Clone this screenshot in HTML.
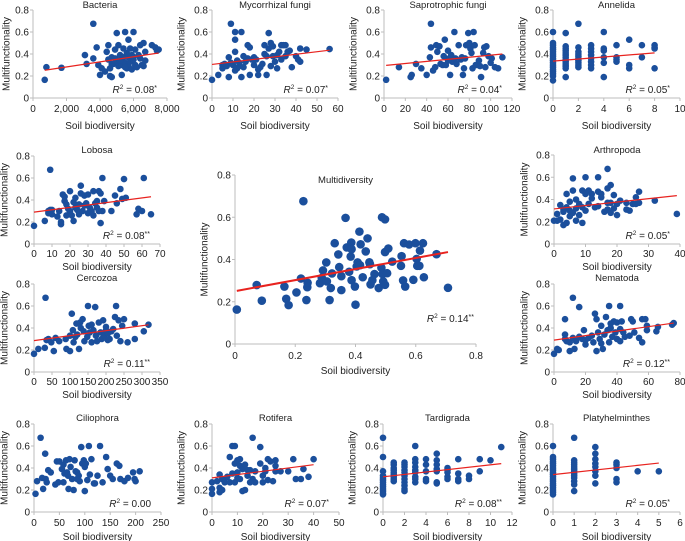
<!DOCTYPE html>
<html><head><meta charset="utf-8">
<style>
html,body{margin:0;padding:0;background:#fff;}
svg{display:block;font-family:"Liberation Sans",Arial,sans-serif;}
</style></head>
<body>
<svg id="fig" width="685" height="541" viewBox="0 0 685 541"></svg>
<script>
// ---- data ----
const bacteriaPts=[[700,0.165],[800,0.28],[1700,0.275],[3100,0.39],[3200,0.31],[3600,0.675],[3600,0.36],[3800,0.46],[3900,0.3],[4000,0.21],[4100,0.27],[4300,0.24],[4400,0.42],[4500,0.48],[4500,0.35],[4600,0.2],[4600,0.27],[4700,0.37],[4700,0.19],[4800,0.31],[4900,0.44],[4900,0.36],[5000,0.59],[5000,0.34],[5100,0.48],[5100,0.29],[5200,0.39],[5300,0.21],[5300,0.3],[5400,0.37],[5400,0.45],[5500,0.6],[5500,0.32],[5600,0.27],[5600,0.41],[5700,0.53],[5700,0.37],[5700,0.29],[5800,0.45],[5800,0.33],[5900,0.26],[5900,0.39],[6000,0.35],[6000,0.6],[6100,0.3],[6100,0.44],[6200,0.28],[6300,0.39],[6400,0.48],[6400,0.36],[6500,0.3],[6600,0.5],[6600,0.29],[6700,0.42],[6700,0.34],[7100,0.48],[7300,0.46],[7400,0.43],[7500,0.44],[5200,0.34],[5500,0.28],[6000,0.37],[4700,0.31]];
const mycorrhizalPts=[[0,0.165],[3,0.21],[5,0.27],[5,0.3],[6,0.31],[7,0.29],[8,0.37],[8,0.19],[9,0.675],[9,0.32],[10,0.3],[11,0.6],[11,0.53],[11,0.42],[11,0.25],[12,0.27],[12,0.34],[13,0.29],[13,0.32],[14,0.6],[14,0.19],[15,0.28],[15,0.38],[16,0.33],[17,0.48],[17,0.36],[18,0.46],[18,0.21],[19,0.35],[20,0.3],[20,0.37],[21,0.35],[22,0.26],[22,0.21],[23,0.28],[24,0.31],[25,0.4],[25,0.48],[26,0.38],[26,0.21],[27,0.59],[27,0.45],[28,0.5],[28,0.29],[29,0.47],[29,0.38],[30,0.33],[31,0.39],[31,0.27],[32,0.42],[33,0.35],[33,0.48],[34,0.48],[35,0.48],[35,0.38],[36,0.42],[37,0.43],[38,0.28],[40,0.38],[41,0.35],[42,0.45],[42,0.33],[45,0.44],[56,0.445]];
const saprotrophicPts=[[2,0.165],[14,0.28],[25,0.19],[26,0.21],[30,0.31],[35,0.27],[40,0.21],[43,0.37],[44,0.675],[44,0.46],[46,0.25],[48,0.28],[49,0.48],[50,0.42],[52,0.47],[53,0.31],[55,0.3],[56,0.38],[57,0.53],[58,0.3],[60,0.43],[61,0.36],[62,0.21],[63,0.39],[64,0.33],[66,0.6],[67,0.36],[68,0.31],[70,0.48],[72,0.35],[73,0.37],[74,0.21],[75,0.27],[77,0.48],[79,0.59],[80,0.5],[81,0.45],[82,0.41],[83,0.27],[84,0.6],[85,0.48],[86,0.3],[88,0.3],[89,0.34],[90,0.29],[91,0.19],[93,0.41],[94,0.46],[95,0.28],[96,0.47],[98,0.38],[100,0.32],[101,0.36],[104,0.28],[107,0.27],[111,0.37],[76,0.36],[60,0.34]];
const annelidaCols=[[0,[0.6,0.5,0.48,0.46,0.44,0.42,0.4,0.38,0.36,0.34,0.32,0.3,0.28,0.26,0.24,0.22,0.2,0.16]],[1,[0.59,0.47,0.45,0.43,0.41,0.39,0.37,0.35,0.33,0.31,0.29,0.27,0.19]],[2,[0.675,0.46,0.42,0.4,0.38,0.36,0.34,0.32,0.3,0.28]],[3,[0.48,0.45,0.42,0.39,0.36,0.33,0.3,0.27]],[4,[0.6,0.45,0.43,0.37,0.32,0.19]],[5,[0.48,0.37,0.35,0.33]],[6,[0.53,0.3,0.27]],[7,[0.48,0.37]],[8,[0.48,0.46,0.45,0.27]]];
const lobosaPts=[[0,0.165],[6,0.21],[8,0.3],[8,0.28],[9,0.675],[9,0.31],[10,0.27],[10,0.31],[13,0.25],[14,0.3],[15,0.18],[15,0.2],[16,0.45],[17,0.43],[17,0.39],[18,0.36],[18,0.26],[19,0.32],[20,0.48],[20,0.3],[21,0.26],[22,0.21],[22,0.38],[23,0.42],[23,0.33],[24,0.31],[25,0.36],[25,0.27],[26,0.53],[26,0.46],[27,0.3],[28,0.44],[28,0.35],[29,0.37],[30,0.28],[30,0.45],[31,0.33],[32,0.3],[33,0.48],[33,0.26],[34,0.37],[35,0.39],[35,0.33],[36,0.48],[36,0.3],[37,0.19],[37,0.46],[38,0.6],[38,0.3],[39,0.39],[43,0.3],[45,0.44],[46,0.37],[48,0.5],[49,0.41],[50,0.59],[51,0.42],[57,0.27],[58,0.32],[60,0.3],[61,0.6],[65,0.27]];
const cercozoaPts=[[0,0.165],[12,0.21],[30,0.22],[32,0.675],[35,0.29],[40,0.3],[48,0.27],[55,0.19],[60,0.31],[70,0.28],[88,0.3],[90,0.21],[100,0.19],[100,0.33],[105,0.53],[108,0.38],[110,0.27],[115,0.32],[120,0.34],[125,0.21],[128,0.45],[130,0.4],[135,0.48],[138,0.37],[140,0.28],[148,0.32],[150,0.6],[152,0.42],[155,0.36],[160,0.27],[165,0.38],[170,0.59],[172,0.33],[175,0.28],[180,0.45],[185,0.36],[188,0.3],[192,0.47],[195,0.33],[200,0.41],[200,0.38],[205,0.35],[210,0.3],[215,0.37],[220,0.39],[225,0.5],[228,0.6],[230,0.33],[235,0.47],[240,0.28],[245,0.42],[250,0.48],[260,0.27],[280,0.44],[280,0.3],[305,0.37],[318,0.43],[160,0.43],[118,0.44],[205,0.29]];
const arthropodaPts=[[0,0.21],[1,0.27],[1,0.21],[2,0.35],[2,0.22],[3,0.31],[3,0.17],[3,0.29],[4,0.45],[4,0.33],[4,0.19],[5,0.38],[5,0.3],[5,0.25],[6,0.59],[6,0.48],[6,0.28],[7,0.4],[7,0.21],[7,0.32],[8,0.36],[8,0.26],[9,0.48],[9,0.19],[9,0.33],[10,0.6],[10,0.45],[10,0.3],[11,0.48],[11,0.36],[12,0.45],[12,0.41],[13,0.33],[14,0.6],[14,0.47],[14,0.34],[15,0.45],[15,0.42],[16,0.29],[17,0.675],[17,0.5],[17,0.37],[17,0.31],[18,0.53],[18,0.37],[18,0.28],[19,0.44],[19,0.32],[20,0.26],[20,0.36],[21,0.39],[23,0.37],[23,0.31],[24,0.3],[25,0.36],[26,0.42],[26,0.36],[27,0.47],[27,0.37],[32,0.39],[39,0.27]];
const nematodaPts=[[0,0.165],[2,0.21],[3,0.2],[7,0.48],[7,0.34],[7,0.3],[8,0.28],[10,0.19],[10,0.27],[12,0.675],[12,0.31],[13,0.21],[14,0.28],[16,0.59],[16,0.32],[18,0.3],[19,0.38],[20,0.25],[20,0.29],[22,0.31],[24,0.33],[25,0.27],[26,0.53],[27,0.48],[27,0.19],[28,0.36],[29,0.3],[30,0.42],[30,0.26],[31,0.21],[32,0.34],[33,0.5],[34,0.38],[35,0.6],[35,0.27],[36,0.4],[37,0.32],[38,0.46],[39,0.36],[40,0.45],[40,0.3],[42,0.6],[42,0.39],[43,0.46],[44,0.36],[45,0.32],[48,0.33],[49,0.48],[50,0.46],[51,0.36],[54,0.31],[56,0.27],[56,0.48],[58,0.48],[59,0.42],[59,0.38],[65,0.37],[66,0.41],[75,0.43],[76,0.445],[36,0.44],[42,0.28]];
const multidiversityPts=[[0.006,0.163],[0.072,0.279],[0.089,0.205],[0.164,0.272],[0.17,0.214],[0.178,0.184],[0.204,0.244],[0.219,0.31],[0.227,0.676],[0.237,0.208],[0.24,0.269],[0.241,0.29],[0.282,0.288],[0.288,0.313],[0.292,0.348],[0.303,0.386],[0.305,0.296],[0.314,0.208],[0.318,0.265],[0.322,0.334],[0.331,0.477],[0.343,0.424],[0.346,0.364],[0.353,0.321],[0.353,0.255],[0.367,0.597],[0.371,0.457],[0.379,0.342],[0.384,0.414],[0.386,0.48],[0.387,0.449],[0.387,0.302],[0.398,0.272],[0.4,0.186],[0.404,0.367],[0.407,0.386],[0.413,0.532],[0.415,0.373],[0.417,0.472],[0.424,0.316],[0.434,0.438],[0.44,0.5],[0.446,0.387],[0.448,0.378],[0.45,0.282],[0.456,0.302],[0.463,0.331],[0.477,0.265],[0.486,0.361],[0.488,0.6],[0.49,0.331],[0.492,0.296],[0.498,0.59],[0.498,0.435],[0.498,0.28],[0.505,0.335],[0.509,0.452],[0.522,0.39],[0.551,0.37],[0.553,0.416],[0.558,0.301],[0.561,0.477],[0.565,0.272],[0.578,0.471],[0.592,0.304],[0.599,0.477],[0.603,0.403],[0.605,0.37],[0.612,0.37],[0.614,0.442],[0.624,0.477],[0.627,0.316],[0.669,0.425],[0.707,0.266]];
const ciliophoraPts=[[3,0.165],[6,0.28],[13,0.675],[16,0.31],[18,0.21],[22,0.53],[23,0.3],[25,0.27],[28,0.38],[33,0.36],[42,0.25],[45,0.46],[48,0.27],[50,0.46],[55,0.39],[58,0.43],[58,0.27],[63,0.47],[65,0.36],[67,0.33],[68,0.21],[70,0.48],[72,0.41],[75,0.3],[78,0.2],[80,0.47],[82,0.37],[85,0.36],[88,0.33],[90,0.28],[93,0.59],[95,0.44],[98,0.47],[100,0.19],[100,0.41],[102,0.44],[105,0.29],[108,0.6],[110,0.34],[113,0.48],[118,0.26],[125,0.33],[130,0.6],[135,0.27],[142,0.5],[145,0.39],[150,0.33],[155,0.3],[163,0.44],[168,0.42],[170,0.3],[178,0.28],[185,0.31],[195,0.36],[198,0.3],[200,0.28],[208,0.37],[85,0.3],[120,0.26],[60,0.35]];
const rotiferaPts=[[0,0.165],[0,0.21],[0,0.27],[2,0.28],[3,0.34],[3,0.22],[3,0.18],[4,0.3],[4,0.2],[5,0.27],[6,0.32],[7,0.5],[7,0.27],[8,0.6],[8,0.35],[9,0.6],[9,0.44],[9,0.27],[10,0.47],[10,0.36],[10,0.31],[11,0.48],[11,0.42],[11,0.3],[12,0.39],[12,0.19],[13,0.43],[13,0.2],[14,0.38],[14,0.33],[15,0.38],[16,0.675],[16,0.3],[17,0.37],[17,0.27],[19,0.59],[19,0.44],[20,0.33],[20,0.27],[21,0.4],[22,0.48],[22,0.29],[23,0.46],[24,0.28],[25,0.47],[25,0.37],[25,0.42],[27,0.37],[30,0.37],[32,0.48],[33,0.3],[35,0.3],[36,0.39],[38,0.32],[40,0.48],[21,0.37],[15,0.27]];
const tardigradaCols=[[0,[0.675,0.5,0.37,0.33,0.31,0.29,0.27,0.25,0.23,0.21,0.19,0.17,0.16]],[1,[0.45,0.43,0.4,0.38,0.36,0.34,0.32,0.3,0.28]],[2,[0.45,0.43,0.41,0.38,0.36,0.33,0.3,0.27,0.24,0.21,0.19]],[3,[0.6,0.48,0.45,0.41,0.38,0.36,0.32,0.3,0.27]],[4,[0.48,0.43,0.37,0.3,0.28]],[5,[0.53,0.47,0.43,0.39,0.37,0.27,0.26]],[6,[0.4,0.38,0.36,0.32,0.3]],[7,[0.48,0.35,0.3,0.28]],[8,[0.33,0.3]],[9,[0.48,0.37]],[10,[0.47]],[11,[0.59]]];
const platyCols=[[0,[0.6,0.5,0.48,0.46,0.44,0.42,0.4,0.38,0.36,0.34,0.32,0.3,0.28,0.26,0.24,0.22,0.2,0.18,0.16]],[1,[0.675,0.47,0.45,0.43,0.41,0.39,0.37,0.35,0.33,0.31,0.28,0.25,0.19]],[2,[0.59,0.53,0.48,0.44,0.41,0.37,0.33,0.26]],[3,[0.45,0.43,0.4,0.3,0.27]],[4,[0.37]],[5,[0.37]]];
// regression fits [intercept, slope]
const fitBacteria=[0.236,0.0000231];
const fitMycorrhizal=[0.305,0.00232];
const fitSaprotrophic=[0.295,0.000946];
const fitAnnelida=[0.335,0.0094];
const fitLobosa=[0.29,0.00215];
const fitCercozoa=[0.285,0.000453];
const fitArthropoda=[0.315,0.00308];
const fitNematoda=[0.29,0.00204];
const fitMultidiversity=[0.25,0.262];
const fitRotifera=[0.31,0.003];
const fitTardigrada=[0.32,0.0109];
const fitPlaty=[0.34,0.021];
const yTicks=[0,0.2,0.4,0.6,0.8];
const bacteriaXTicks=[0,2000,4000,6000,8000];
const bacteriaXLabels=["0","2,000","4,000","6,000","8,000"];

function flat(cols){const o=[];cols.forEach(c=>c[1].forEach(v=>o.push([c[0],v])));return o;}
const NS="http://www.w3.org/2000/svg";
const svg=document.getElementById('fig');
function mk(tag,attrs,parent){const e=document.createElementNS(NS,tag);for(const k in attrs)e.setAttribute(k,attrs[k]);(parent||svg).appendChild(e);return e;}

const panels=[
 {id:'bacteria',title:'Bacteria',x0:33,x1:167,yT:10,yB:98,xmax:8000,xt:bacteriaXTicks,xl:bacteriaXLabels,pts:bacteriaPts,fit:fitBacteria,r2:'0.08',st:'*',tY:8,tkOff:14,xlOff:31,ylOff:-26},
 {id:'mycorrhizal-fungi',title:'Mycorrhizal fungi',x0:212,x1:338,yT:10,yB:98,xmax:60,xt:[0,10,20,30,40,50,60],pts:mycorrhizalPts,fit:fitMycorrhizal,r2:'0.07',st:'*',tY:8,tkOff:14,xlOff:31,ylOff:-30},
 {id:'saprotrophic-fungi',title:'Saprotrophic fungi',x0:384,x1:512,yT:10,yB:98,xmax:120,xt:[0,20,40,60,80,100,120],pts:saprotrophicPts,fit:fitSaprotrophic,r2:'0.04',st:'*',tY:8,tkOff:14,xlOff:31,ylOff:-30},
 {id:'annelida',title:'Annelida',x0:553,x1:680,yT:10,yB:98,xmax:10,xt:[0,2,4,6,8,10],pts:flat(annelidaCols),fit:fitAnnelida,r2:'0.05',st:'*',tY:8,tkOff:14,xlOff:31,ylOff:-30},
 {id:'lobosa',title:'Lobosa',x0:34,x1:160,yT:156,yB:244,xmax:70,xt:[0,10,20,30,40,50,60,70],pts:lobosaPts,fit:fitLobosa,r2:'0.08',st:'**',tY:153,tkOff:13,xlOff:26,ylOff:-29},
 {id:'cercozoa',title:'Cercozoa',x0:34,x1:160,yT:284,yB:372,xmax:350,xt:[0,50,100,150,200,250,300,350],pts:cercozoaPts,fit:fitCercozoa,r2:'0.11',st:'**',tY:281,tkOff:13,xlOff:26,ylOff:-29},
 {id:'arthropoda',title:'Arthropoda',x0:554,x1:680,yT:155,yB:244,xmax:40,xt:[0,10,20,30,40],pts:arthropodaPts,fit:fitArthropoda,r2:'0.05',st:'*',tY:153,tkOff:13,xlOff:26,ylOff:-29},
 {id:'nematoda',title:'Nematoda',x0:554,x1:680,yT:284,yB:372,xmax:80,xt:[0,20,40,60,80],pts:nematodaPts,fit:fitNematoda,r2:'0.12',st:'**',tY:281,tkOff:13,xlOff:26,ylOff:-29},
 {id:'multidiversity',title:'Multidiversity',x0:235,x1:476,yT:175,yB:344,xmax:0.8,xt:[0,0.2,0.4,0.6,0.8],pts:multidiversityPts,fit:fitMultidiversity,r2:'0.14',st:'**',tY:183,tkOff:15,xlOff:30,ylOff:-30,big:true},
 {id:'ciliophora',title:'Ciliophora',x0:34,x1:161,yT:424,yB:512,xmax:250,xt:[0,50,100,150,200,250],pts:ciliophoraPts,fit:null,r2:'0.00',st:'',tY:421,tkOff:14,xlOff:28,ylOff:-29},
 {id:'rotifera',title:'Rotifera',x0:212,x1:339,yT:424,yB:512,xmax:50,xt:[0,10,20,30,40,50],pts:rotiferaPts,fit:fitRotifera,r2:'0.07',st:'*',tY:421,tkOff:14,xlOff:28,ylOff:-30},
 {id:'tardigrada',title:'Tardigrada',x0:383,x1:512,yT:424,yB:512,xmax:12,xt:[0,2,4,6,8,10,12],pts:flat(tardigradaCols),fit:fitTardigrada,r2:'0.08',st:'**',tY:421,tkOff:14,xlOff:28,ylOff:-30},
 {id:'platyhelminthes',title:'Platyhelminthes',x0:553,x1:680,yT:424,yB:512,xmax:6,xt:[0,1,2,3,4,5,6],pts:flat(platyCols),fit:fitPlaty,r2:'0.05',st:'*',tY:421,tkOff:14,xlOff:28,ylOff:-30}
];

panels.forEach(p=>{
 const g=mk('g',{});
 
 
 const sx=v=>p.x0+(v/p.xmax)*(p.x1-p.x0);
 const sy=v=>p.yB-(v/0.8)*(p.yB-p.yT);
 const fs=10;
 const ya=mk('line',{x1:p.x0,y1:p.yT,x2:p.x0,y2:p.yB,stroke:'#bdbdbd','stroke-width':1},g);
 
 
 const xa=mk('line',{x1:p.x0,y1:p.yB,x2:p.x1,y2:p.yB,stroke:'#bdbdbd','stroke-width':1},g);
 
 
 yTicks.forEach(t=>{
  mk('line',{x1:p.x0-3,y1:sy(t),x2:p.x0,y2:sy(t),stroke:'#bdbdbd'},g);
  const tx=mk('text',{x:p.x0-4,y:sy(t)+3.5,'font-size':fs,'text-anchor':'end',fill:'#222'},g);
  tx.textContent=String(t);
  
  
 });
 p.xt.forEach((t,i)=>{
  mk('line',{x1:sx(t),y1:p.yB,x2:sx(t),y2:p.yB+3,stroke:'#bdbdbd'},g);
  const tx=mk('text',{x:sx(t),y:p.yB+p.tkOff,'font-size':fs,'text-anchor':'middle',fill:'#222'},g);
  tx.textContent=p.xl?p.xl[i]:String(t);
  
  
 });
 const ti=mk('text',{x:(p.x0+p.x1)/2+(p.big?-10:0),y:p.tY,'font-size':9.5,'text-anchor':'middle',fill:'#222'},g);
 ti.textContent=p.title;
 
 
 const xl=mk('text',{x:(p.x0+p.x1)/2,y:p.yB+p.xlOff,'font-size':10,'text-anchor':'middle',fill:'#222'},g);
 xl.textContent='Soil biodiversity';
 
 
 const yc=(p.yT+p.yB)/2, yx=p.x0+p.ylOff;
 const yl=mk('text',{x:yx,y:yc,'font-size':10,'text-anchor':'middle',fill:'#222',transform:'rotate(-90 '+yx+' '+yc+')','dominant-baseline':'middle'},g);
 yl.textContent='Multifunctionality';
 
 
 const r=p.big?4.3:3.3;
 p.pts.forEach(d=>{
  const c=mk('circle',{cx:sx(d[0]),cy:sy(d[1]),r:r,fill:'#1b4f9c'},g);
  
  
 });
 if(p.fit){
  const xs=p.pts.map(d=>d[0]);
  const mn=Math.min(...xs), mx=Math.max(...xs);
  const ln=mk('line',{x1:sx(mn),y1:sy(p.fit[0]+p.fit[1]*mn),x2:sx(mx),y2:sy(p.fit[0]+p.fit[1]*mx),stroke:'#e8231f','stroke-width':p.big?2:1.2},g);
  
  
 }
 const rt=mk('text',{x:p.x1-(p.big?2:10),y:p.yB-(p.big?22:5),'font-size':10,'text-anchor':'end',fill:'#222'},g);
 rt.innerHTML='<tspan font-style="italic">R</tspan><tspan dy="-4" font-size="6.5">2</tspan><tspan dy="4"> = '+p.r2+'</tspan><tspan dy="-3" font-size="7">'+p.st+'</tspan>';
 
 
});
</script>
</body></html>
